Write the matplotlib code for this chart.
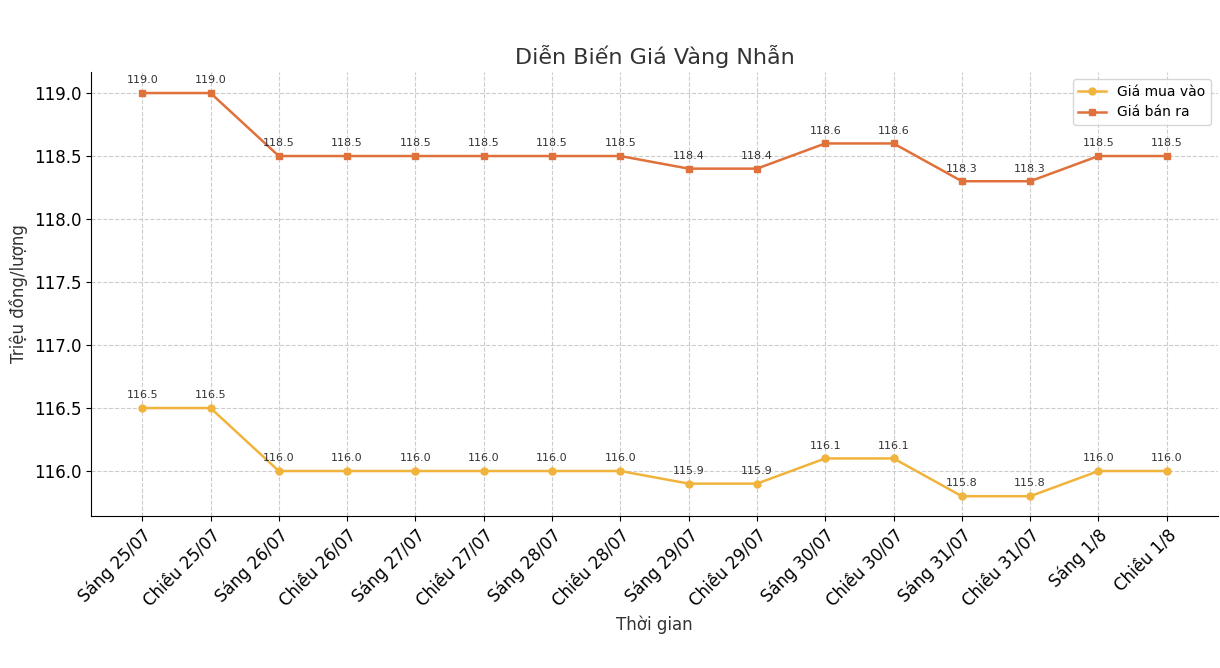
import matplotlib.pyplot as plt

labels = ["Sáng 25/07", "Chiều 25/07", "Sáng 26/07", "Chiều 26/07", "Sáng 27/07", "Chiều 27/07",
          "Sáng 28/07", "Chiều 28/07", "Sáng 29/07", "Chiều 29/07", "Sáng 30/07", "Chiều 30/07",
          "Sáng 31/07", "Chiều 31/07", "Sáng 1/8", "Chiều 1/8"]
gia_mua = [116.5, 116.5, 116.0, 116.0, 116.0, 116.0, 116.0, 116.0, 115.9, 115.9, 116.1, 116.1,
           115.8, 115.8, 116.0, 116.0]
gia_ban = [119.0, 119.0, 118.5, 118.5, 118.5, 118.5, 118.5, 118.5, 118.4, 118.4, 118.6, 118.6,
           118.3, 118.3, 118.5, 118.5]

fig = plt.figure(figsize=(12.2, 6.68), dpi=100)
ax = fig.add_axes([91/1220, 1 - 516/668, (1218-91)/1220, (516-72)/668])
x = range(len(labels))
ax.plot(x, gia_mua, marker='o', color='#F0B43C', lw=1.8, ms=5, label='Giá mua vào')
ax.plot(x, gia_ban, marker='s', color='#E0713A', lw=1.8, ms=5, label='Giá bán ra')
for i in x:
    ax.annotate(f"{gia_mua[i]:.1f}", (i, gia_mua[i]), xytext=(0, 7), textcoords='offset points',
                ha='center', fontsize=8, color='#333333')
    ax.annotate(f"{gia_ban[i]:.1f}", (i, gia_ban[i]), xytext=(0, 7), textcoords='offset points',
                ha='center', fontsize=8, color='#333333')

ax.set_xlim(-0.75, 15.75)
ax.set_ylim(115.643, 119.167)
ax.set_xticks(list(x))
ax.set_xticklabels(labels, rotation=45, ha='right', rotation_mode='anchor', fontsize=12)
ax.tick_params(axis='y', labelsize=12)
ax.grid(True, linestyle='--', color='#cccccc', lw=0.8)
ax.spines['top'].set_visible(False)
ax.spines['right'].set_visible(False)
ax.set_title('Diễn Biến Giá Vàng Nhẫn', fontsize=16, color='#333333')
ax.set_xlabel('Thời gian', fontsize=12, color='#333333')
ax.set_ylabel('Triệu đồng/lượng', fontsize=12, color='#333333')
ax.legend(loc='upper right', fontsize=10)

fig.savefig('out.png', dpi=100)
